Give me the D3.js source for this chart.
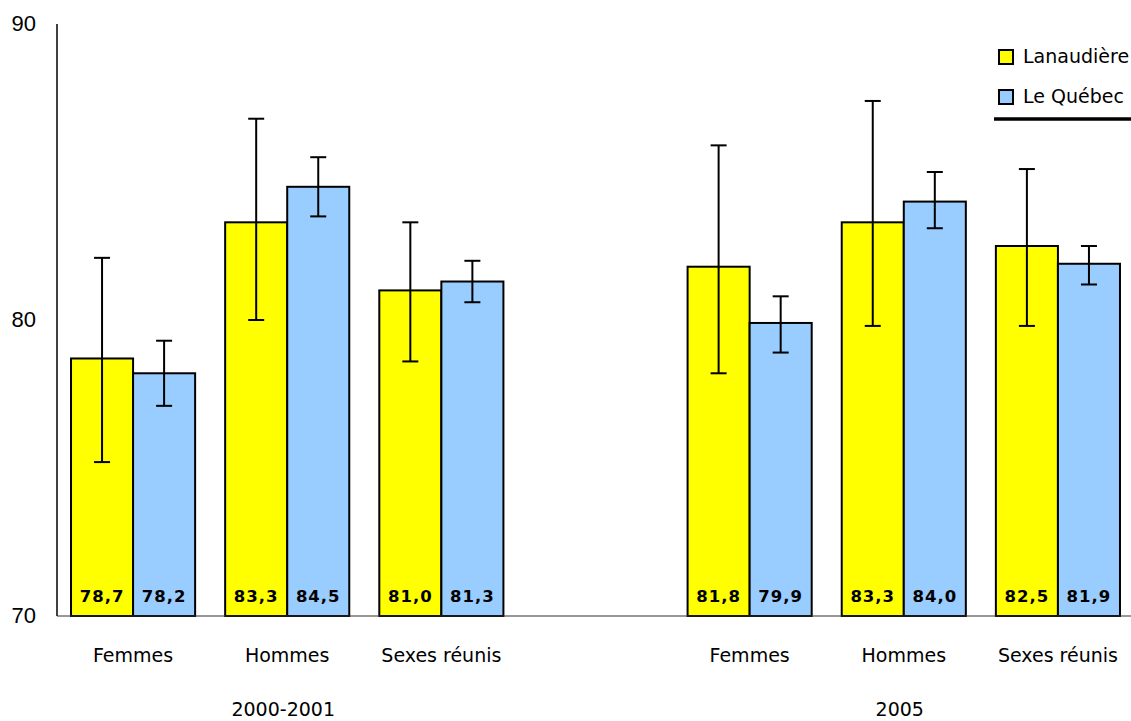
<!DOCTYPE html>
<html>
<head>
<meta charset="utf-8">
<script src="https://cdn.jsdelivr.net/npm/d3@7"></script>
<style>
  html, body { margin: 0; padding: 0; background: #fff; }
  svg { display: block; }
  text { font-family: "DejaVu Sans", sans-serif; fill: #000; }
</style>
</head>
<body>
<svg id="chart" width="1131" height="721"></svg>
<script>
// ---- Data ----
const periods = ["2000-2001", "2005"];
const categories = ["Femmes", "Hommes", "Sexes réunis"];
const series = ["Lanaudière", "Le Québec"];
const lanaudiere     = [78.7, 83.3, 81.0, 81.8, 83.3, 82.5];
const lanaudiereLow  = [75.2, 80.0, 78.6, 78.2, 79.8, 79.8];
const lanaudiereHigh = [82.1, 86.8, 83.3, 85.9, 87.4, 85.1];
const quebec         = [78.2, 84.5, 81.3, 79.9, 84.0, 81.9];
const quebecLow      = [77.1, 83.5, 80.6, 78.9, 83.1, 81.2];
const quebecHigh     = [79.3, 85.5, 82.0, 80.8, 85.0, 82.5];
const yTicks = [70, 80, 90];
const colors = ["#FFFF00", "#99CCFF"];

// ---- Build rows ----
const rows = [];
periods.forEach((p, pi) => categories.forEach((c, ci) => {
  const i = pi * categories.length + ci;
  rows.push({
    key: p + "|" + c, period: p, cat: c,
    vals: [
      {s: series[0], v: lanaudiere[i], lo: lanaudiereLow[i], hi: lanaudiereHigh[i]},
      {s: series[1], v: quebec[i], lo: quebecLow[i], hi: quebecHigh[i]}
    ]
  });
}));
const slots = [];
periods.forEach((p, pi) => {
  if (pi > 0) slots.push("gap" + pi);
  categories.forEach(c => slots.push(p + "|" + c));
});

const svg = d3.select("#chart");
const x0 = d3.scaleBand().domain(slots).range([56, 1135]).padding(0);
const x1 = d3.scaleBand().domain(series).range([0, x0.bandwidth()])
  .paddingInner(0).paddingOuter(0.242);
const y = d3.scaleLinear().domain([70, 90]).range([616, 24]);
const fmt = v => d3.format(".1f")(v).replace(".", ",");

// Y axis line and tick labels
svg.append("line").attr("x1", 57).attr("x2", 57).attr("y1", y(90)).attr("y2", y(70))
  .attr("stroke", "#000").attr("stroke-width", 1.5);
svg.selectAll(".ytick").data(yTicks).enter().append("text")
  .attr("x", 36).attr("y", d => y(d) + 7)
  .attr("text-anchor", "end").attr("font-size", 22)
  .style("font-family", "'Liberation Sans', Arial, sans-serif")
  .text(d => d);

// Bars
const g = svg.selectAll(".grp").data(rows).enter().append("g")
  .attr("transform", d => `translate(${x0(d.key)},0)`);

g.selectAll("rect").data(d => d.vals).enter().append("rect")
  .attr("x", d => x1(d.s)).attr("width", x1.bandwidth())
  .attr("y", d => y(d.v)).attr("height", d => y(70) - y(d.v))
  .attr("fill", (d, i) => colors[i]).attr("stroke", "#000").attr("stroke-width", 2);

// Baseline
svg.append("line").attr("x1", 57).attr("x2", 1131).attr("y1", y(70)).attr("y2", y(70))
  .attr("stroke", "#333").attr("stroke-width", 1.2);

// Error bars
const eb = g.selectAll(".eb").data(d => d.vals).enter().append("g")
  .attr("transform", d => `translate(${x1(d.s) + x1.bandwidth() / 2},0)`);
eb.append("line").attr("x1", 0).attr("x2", 0)
  .attr("y1", d => y(d.hi)).attr("y2", d => y(d.lo))
  .attr("stroke", "#000").attr("stroke-width", 2);
eb.append("line").attr("x1", -8).attr("x2", 8)
  .attr("y1", d => y(d.hi)).attr("y2", d => y(d.hi))
  .attr("stroke", "#000").attr("stroke-width", 2);
eb.append("line").attr("x1", -8).attr("x2", 8)
  .attr("y1", d => y(d.lo)).attr("y2", d => y(d.lo))
  .attr("stroke", "#000").attr("stroke-width", 2);

// Value labels
g.selectAll(".val").data(d => d.vals).enter().append("text")
  .attr("x", d => x1(d.s) + x1.bandwidth() / 2).attr("y", 602)
  .attr("text-anchor", "middle").attr("font-size", 16.5).attr("font-weight", "bold")
  .attr("letter-spacing", 1)
  .text(d => fmt(d.v));

// Category labels
g.append("text")
  .attr("x", x0.bandwidth() / 2).attr("y", 662)
  .attr("text-anchor", "middle").attr("font-size", 19)
  .text(d => d.cat);

// Period labels (under middle category)
svg.selectAll(".period").data(periods).enter().append("text")
  .attr("x", p => x0(p + "|" + categories[1]) + x0.bandwidth() / 2 - 4)
  .attr("y", 716).attr("text-anchor", "middle").attr("font-size", 19)
  .text(p => p);

// Legend
const leg = svg.append("g");
series.forEach((s, i) => {
  const yy = 50 + i * 40;
  leg.append("rect").attr("x", 999).attr("y", yy).attr("width", 14).attr("height", 14)
    .attr("fill", colors[i]).attr("stroke", "#000").attr("stroke-width", 2);
  leg.append("text").attr("x", 1023).attr("y", yy + 13).attr("font-size", 19).text(s);
});
leg.append("line").attr("x1", 994).attr("x2", 1131).attr("y1", 119).attr("y2", 119)
  .attr("stroke", "#000").attr("stroke-width", 3.5);
</script>
</body>
</html>
